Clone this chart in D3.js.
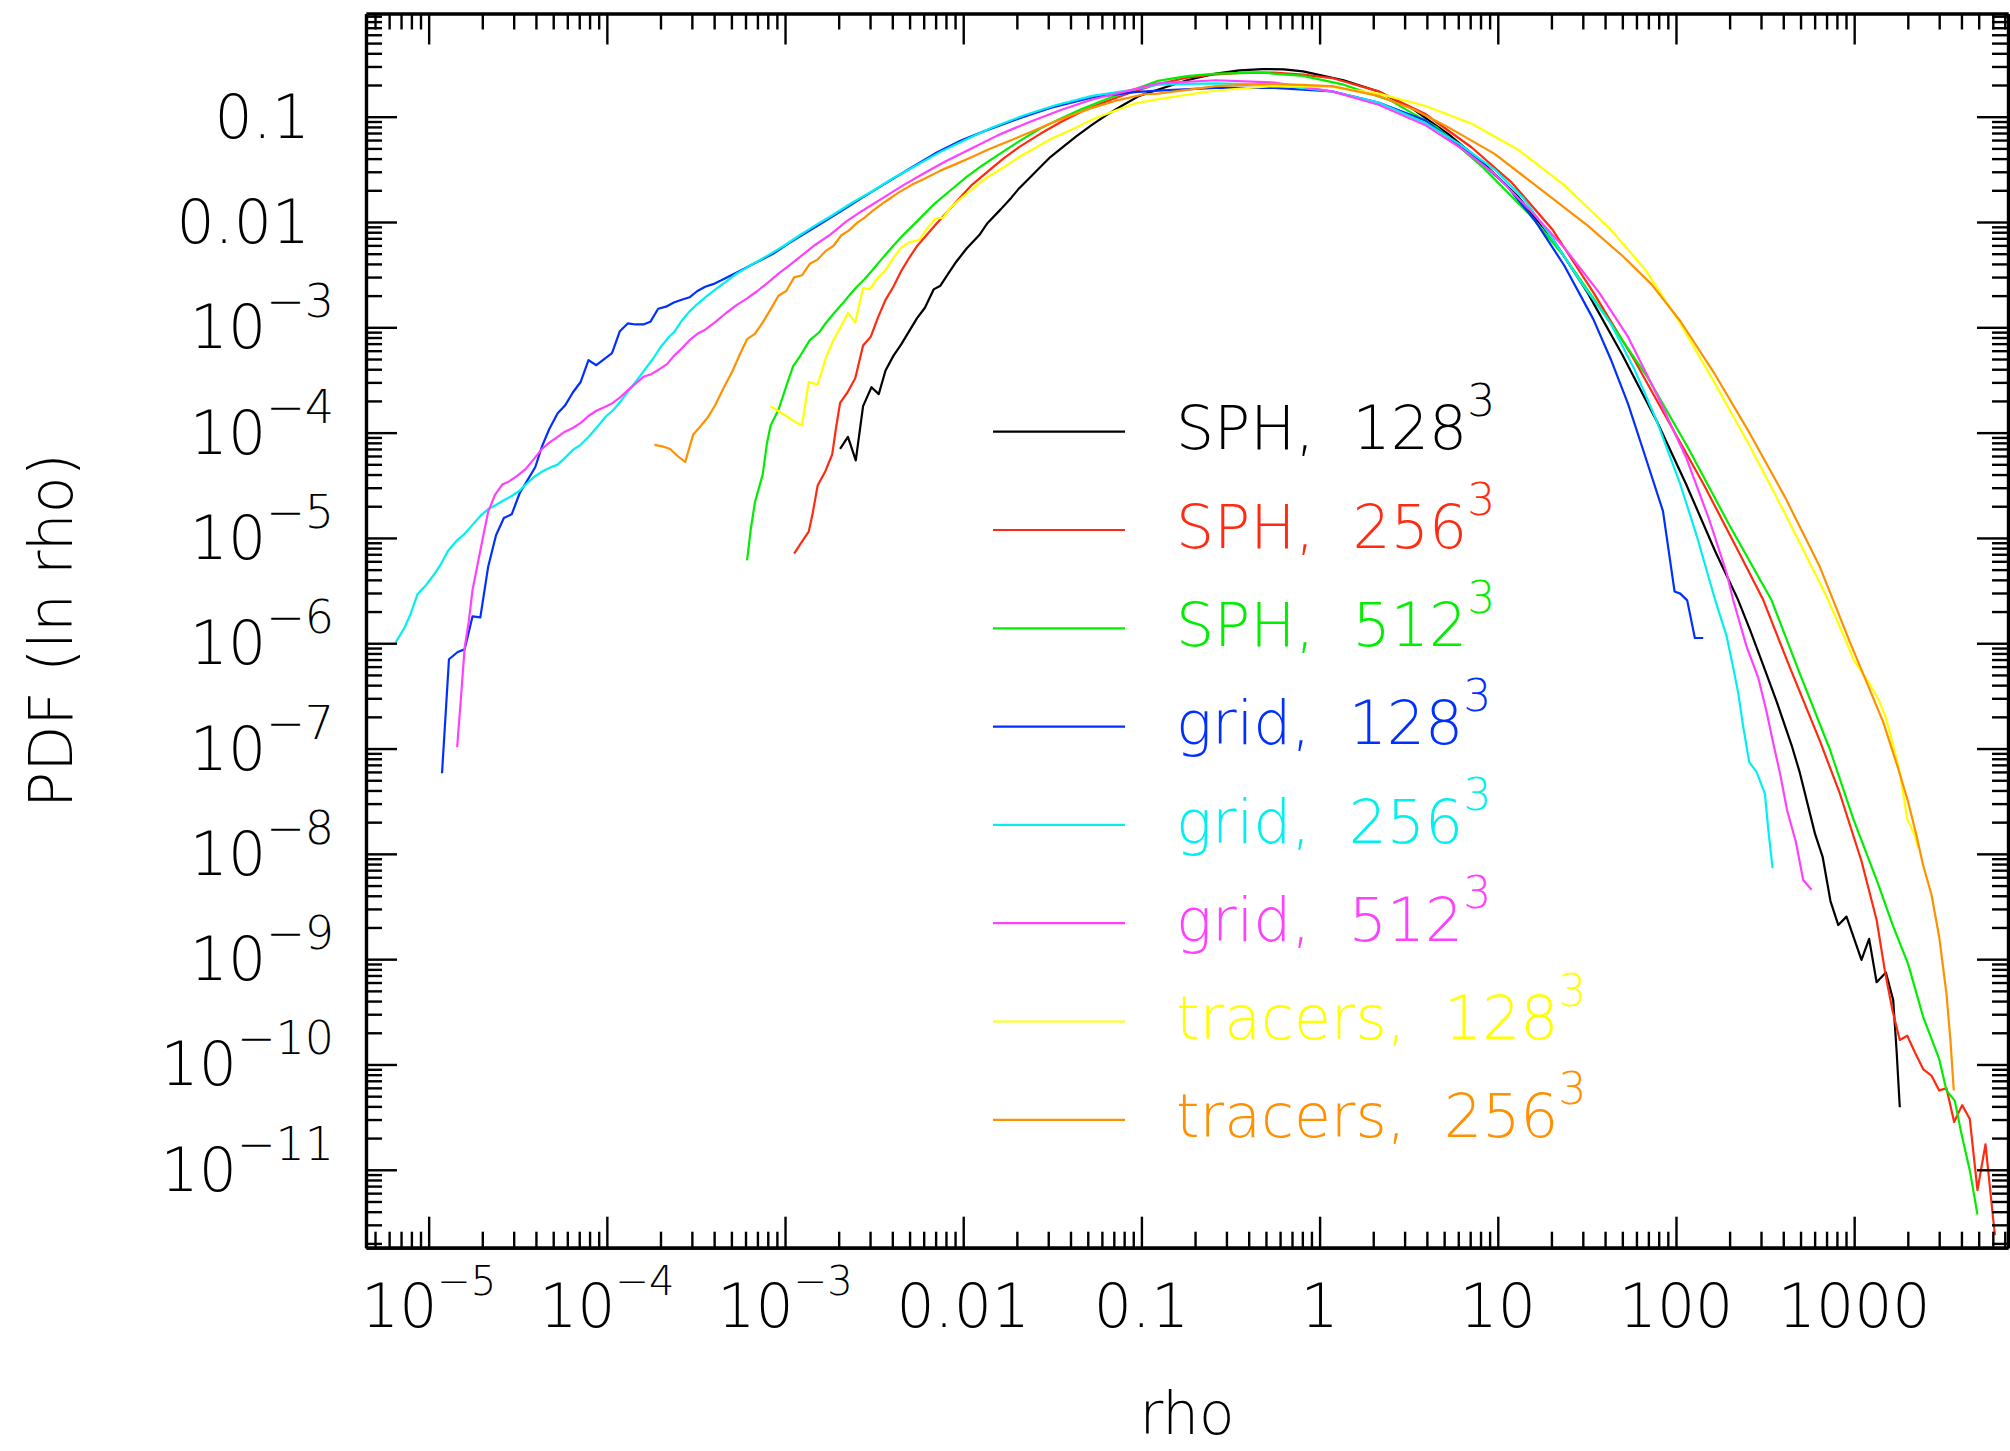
<!DOCTYPE html>
<html>
<head>
<meta charset="utf-8">
<script src="https://cdn.jsdelivr.net/npm/d3@7"></script>
<style>
body { margin: 0; background: #fff; }
text { font-family: "DejaVu Sans", "Liberation Sans", sans-serif; font-weight: 200; }
</style>
</head>
<body>
<div id="chart-area"></div>
<script>

// curves: pairs of [log10 rho, log10 PDF]
var sph128 = [[-2.691,-4.155],[-2.647,-4.041],[-2.603,-4.264],[-2.562,-3.748],[-2.515,-3.569],[-2.474,-3.634],[-2.436,-3.410],[-2.392,-3.271],[-2.348,-3.162],[-2.304,-3.038],[-2.259,-2.913],[-2.215,-2.814],[-2.166,-2.640],[-2.128,-2.605],[-2.084,-2.491],[-2.039,-2.377],[-1.981,-2.252],[-1.907,-2.118],[-1.863,-2.009],[-1.790,-1.880],[-1.731,-1.771],[-1.687,-1.681],[-1.628,-1.582],[-1.570,-1.483],[-1.511,-1.383],[-1.438,-1.284],[-1.364,-1.185],[-1.276,-1.075],[-1.188,-0.976],[-1.100,-0.887],[-1.012,-0.802],[-0.900,-0.740],[-0.744,-0.654],[-0.582,-0.590],[-0.450,-0.560],[-0.321,-0.548],[-0.200,-0.550],[-0.093,-0.569],[0.135,-0.654],[0.331,-0.760],[0.526,-0.930],[0.721,-1.163],[0.917,-1.438],[1.112,-1.756],[1.308,-2.159],[1.503,-2.668],[1.699,-3.261],[1.894,-3.897],[2.057,-4.490],[2.220,-5.126],[2.349,-5.590],[2.415,-5.870],[2.490,-6.210],[2.564,-6.549],[2.649,-6.969],[2.695,-7.229],[2.780,-7.808],[2.823,-8.028],[2.867,-8.448],[2.911,-8.676],[2.957,-8.596],[3.041,-9.007],[3.084,-8.807],[3.126,-9.219],[3.178,-9.127],[3.219,-9.387],[3.238,-9.867],[3.256,-10.406]];

var sph256 = [[-2.949,-5.149],[-2.905,-5.035],[-2.867,-4.940],[-2.846,-4.776],[-2.817,-4.503],[-2.773,-4.364],[-2.735,-4.205],[-2.714,-3.956],[-2.691,-3.718],[-2.650,-3.619],[-2.606,-3.484],[-2.562,-3.172],[-2.518,-3.087],[-2.480,-2.913],[-2.436,-2.739],[-2.392,-2.615],[-2.348,-2.466],[-2.304,-2.342],[-2.259,-2.228],[-2.215,-2.143],[-2.157,-2.029],[-2.098,-1.920],[-2.025,-1.781],[-1.951,-1.647],[-1.863,-1.522],[-1.775,-1.398],[-1.687,-1.289],[-1.570,-1.165],[-1.452,-1.050],[-1.335,-0.951],[-1.217,-0.867],[-1.071,-0.777],[-0.907,-0.690],[-0.744,-0.630],[-0.582,-0.599],[-0.419,-0.582],[-0.256,-0.582],[-0.093,-0.600],[0.070,-0.633],[0.331,-0.760],[0.591,-0.972],[0.852,-1.290],[1.080,-1.629],[1.308,-2.074],[1.536,-2.668],[1.764,-3.303],[1.959,-3.897],[2.155,-4.490],[2.350,-5.126],[2.490,-5.590],[2.639,-6.230],[2.808,-6.929],[2.920,-7.429],[3.041,-8.068],[3.126,-8.628],[3.172,-9.107],[3.215,-9.487],[3.256,-9.767],[3.298,-9.727],[3.341,-9.887],[3.388,-10.046],[3.434,-10.106],[3.477,-10.246],[3.518,-10.226],[3.561,-10.546],[3.606,-10.386],[3.649,-10.518],[3.692,-11.193],[3.737,-10.758],[3.780,-11.465],[3.790,-11.620]];

var sph512 = [[-3.213,-5.213],[-3.193,-4.925],[-3.169,-4.662],[-3.125,-4.394],[-3.102,-4.105],[-3.081,-3.932],[-3.037,-3.783],[-2.993,-3.559],[-2.955,-3.370],[-2.911,-3.261],[-2.861,-3.122],[-2.808,-3.047],[-2.773,-2.963],[-2.729,-2.874],[-2.685,-2.789],[-2.641,-2.700],[-2.597,-2.615],[-2.553,-2.541],[-2.509,-2.456],[-2.465,-2.367],[-2.406,-2.252],[-2.348,-2.143],[-2.289,-2.044],[-2.230,-1.944],[-2.157,-1.820],[-2.069,-1.696],[-1.981,-1.572],[-1.893,-1.463],[-1.804,-1.363],[-1.687,-1.234],[-1.570,-1.115],[-1.452,-1.016],[-1.335,-0.926],[-1.188,-0.827],[-1.041,-0.742],[-0.907,-0.660],[-0.744,-0.615],[-0.582,-0.590],[-0.321,-0.582],[-0.093,-0.612],[0.135,-0.696],[0.396,-0.845],[0.656,-1.099],[0.917,-1.481],[1.177,-1.926],[1.373,-2.328],[1.601,-2.879],[1.840,-3.473],[2.070,-4.151],[2.300,-4.880],[2.536,-5.590],[2.695,-6.289],[2.864,-7.009],[2.995,-7.668],[3.126,-8.248],[3.219,-8.688],[3.303,-9.047],[3.387,-9.547],[3.477,-9.947],[3.518,-10.246],[3.565,-10.346],[3.603,-10.666],[3.649,-11.006],[3.692,-11.425]];

var grid128 = [[-4.925,-7.235],[-4.886,-6.152],[-4.837,-6.083],[-4.798,-6.058],[-4.754,-5.745],[-4.710,-5.755],[-4.666,-5.273],[-4.622,-4.975],[-4.578,-4.811],[-4.534,-4.776],[-4.490,-4.578],[-4.446,-4.453],[-4.402,-4.329],[-4.364,-4.130],[-4.323,-3.966],[-4.276,-3.817],[-4.235,-3.743],[-4.191,-3.619],[-4.147,-3.519],[-4.103,-3.311],[-4.059,-3.360],[-4.015,-3.301],[-3.971,-3.246],[-3.927,-3.037],[-3.883,-2.963],[-3.839,-2.973],[-3.795,-2.973],[-3.756,-2.948],[-3.712,-2.824],[-3.668,-2.804],[-3.624,-2.764],[-3.580,-2.739],[-3.536,-2.715],[-3.492,-2.655],[-3.448,-2.615],[-3.404,-2.590],[-3.360,-2.556],[-3.302,-2.506],[-3.243,-2.456],[-3.155,-2.377],[-3.067,-2.302],[-2.979,-2.203],[-2.890,-2.109],[-2.802,-2.019],[-2.685,-1.895],[-2.568,-1.771],[-2.450,-1.647],[-2.304,-1.497],[-2.157,-1.348],[-2.010,-1.224],[-1.863,-1.125],[-1.687,-1.016],[-1.511,-0.916],[-1.276,-0.817],[-1.041,-0.767],[-0.907,-0.752],[-0.582,-0.726],[-0.256,-0.726],[0.070,-0.760],[0.330,-0.866],[0.591,-1.035],[0.852,-1.353],[1.047,-1.650],[1.210,-1.989],[1.373,-2.413],[1.536,-2.922],[1.634,-3.303],[1.731,-3.727],[1.813,-4.151],[1.927,-4.745],[1.992,-5.508],[2.024,-5.529],[2.063,-5.593],[2.106,-5.950],[2.153,-5.950]];

var grid256 = [[-5.186,-5.993],[-5.136,-5.854],[-5.101,-5.720],[-5.063,-5.536],[-5.019,-5.457],[-4.974,-5.357],[-4.931,-5.248],[-4.892,-5.124],[-4.842,-5.025],[-4.798,-4.960],[-4.754,-4.876],[-4.710,-4.791],[-4.666,-4.726],[-4.622,-4.687],[-4.578,-4.642],[-4.534,-4.602],[-4.490,-4.552],[-4.446,-4.478],[-4.402,-4.413],[-4.358,-4.364],[-4.314,-4.329],[-4.276,-4.304],[-4.235,-4.240],[-4.191,-4.165],[-4.147,-4.116],[-4.103,-4.041],[-4.059,-3.957],[-4.006,-3.847],[-3.962,-3.783],[-3.918,-3.693],[-3.874,-3.594],[-3.830,-3.499],[-3.786,-3.400],[-3.742,-3.301],[-3.698,-3.187],[-3.654,-3.097],[-3.624,-3.047],[-3.580,-2.938],[-3.536,-2.849],[-3.492,-2.779],[-3.448,-2.715],[-3.390,-2.640],[-3.331,-2.566],[-3.272,-2.491],[-3.184,-2.402],[-3.096,-2.317],[-3.008,-2.228],[-2.920,-2.128],[-2.832,-2.034],[-2.744,-1.945],[-2.626,-1.820],[-2.509,-1.706],[-2.392,-1.582],[-2.274,-1.473],[-2.128,-1.334],[-1.981,-1.214],[-1.834,-1.100],[-1.658,-0.986],[-1.482,-0.891],[-1.276,-0.802],[-1.041,-0.742],[-0.907,-0.696],[-0.582,-0.684],[-0.256,-0.696],[0.070,-0.760],[0.330,-0.866],[0.591,-1.057],[0.786,-1.260],[0.982,-1.502],[1.145,-1.777],[1.308,-2.159],[1.471,-2.583],[1.634,-2.964],[1.764,-3.388],[1.894,-3.897],[2.024,-4.490],[2.120,-5.000],[2.220,-5.590],[2.284,-5.930],[2.321,-6.230],[2.349,-6.469],[2.377,-6.789],[2.411,-7.129],[2.452,-7.221],[2.499,-7.429],[2.518,-7.768],[2.542,-8.136]];

var grid512 = [[-4.840,-6.987],[-4.822,-6.589],[-4.798,-6.043],[-4.775,-5.795],[-4.754,-5.496],[-4.725,-5.248],[-4.696,-5.000],[-4.666,-4.751],[-4.628,-4.592],[-4.587,-4.493],[-4.549,-4.463],[-4.505,-4.413],[-4.455,-4.344],[-4.411,-4.254],[-4.364,-4.155],[-4.323,-4.095],[-4.276,-4.041],[-4.235,-3.991],[-4.191,-3.956],[-4.147,-3.907],[-4.103,-3.842],[-4.059,-3.792],[-4.015,-3.758],[-3.971,-3.723],[-3.927,-3.668],[-3.883,-3.599],[-3.839,-3.534],[-3.795,-3.470],[-3.751,-3.445],[-3.707,-3.400],[-3.662,-3.350],[-3.624,-3.271],[-3.580,-3.202],[-3.536,-3.122],[-3.492,-3.062],[-3.448,-3.023],[-3.390,-2.948],[-3.331,-2.864],[-3.272,-2.789],[-3.213,-2.725],[-3.155,-2.655],[-3.096,-2.575],[-3.037,-2.491],[-2.979,-2.416],[-2.905,-2.317],[-2.832,-2.218],[-2.744,-2.118],[-2.656,-1.994],[-2.568,-1.895],[-2.450,-1.771],[-2.333,-1.647],[-2.215,-1.532],[-2.098,-1.423],[-1.951,-1.299],[-1.804,-1.175],[-1.628,-1.050],[-1.452,-0.936],[-1.276,-0.837],[-1.071,-0.752],[-0.907,-0.684],[-0.582,-0.654],[-0.256,-0.675],[0.070,-0.760],[0.331,-0.887],[0.591,-1.078],[0.786,-1.290],[0.982,-1.544],[1.177,-1.880],[1.373,-2.244],[1.568,-2.668],[1.731,-3.091],[1.894,-3.642],[2.057,-4.236],[2.187,-4.829],[2.285,-5.338],[2.321,-5.590],[2.396,-6.030],[2.462,-6.329],[2.508,-6.649],[2.546,-6.949],[2.583,-7.229],[2.624,-7.588],[2.673,-7.888],[2.714,-8.248],[2.761,-8.340]];

var tracers128 = [[-3.081,-3.748],[-3.037,-3.797],[-2.993,-3.842],[-2.949,-3.892],[-2.905,-3.932],[-2.867,-3.519],[-2.817,-3.544],[-2.773,-3.301],[-2.729,-3.122],[-2.685,-2.988],[-2.647,-2.864],[-2.606,-2.953],[-2.562,-2.625],[-2.524,-2.640],[-2.480,-2.531],[-2.436,-2.456],[-2.392,-2.342],[-2.348,-2.243],[-2.304,-2.193],[-2.245,-2.168],[-2.201,-2.059],[-2.157,-1.969],[-2.113,-1.959],[-2.069,-1.860],[-2.010,-1.771],[-1.937,-1.671],[-1.863,-1.572],[-1.775,-1.483],[-1.687,-1.383],[-1.599,-1.299],[-1.511,-1.214],[-1.394,-1.125],[-1.276,-1.026],[-1.159,-0.951],[-1.041,-0.877],[-0.900,-0.830],[-0.582,-0.751],[-0.256,-0.709],[0.070,-0.718],[0.331,-0.781],[0.591,-0.896],[0.852,-1.065],[1.112,-1.311],[1.373,-1.650],[1.634,-2.074],[1.829,-2.455],[2.024,-2.964],[2.220,-3.537],[2.415,-4.130],[2.611,-4.766],[2.806,-5.423],[2.854,-5.590],[2.957,-5.990],[2.995,-6.150],[3.041,-6.269],[3.088,-6.389],[3.135,-6.529],[3.178,-6.709],[3.219,-6.969],[3.256,-7.229],[3.298,-7.668],[3.341,-7.828],[3.360,-7.950]];

var tracers256 = [[-3.733,-4.116],[-3.689,-4.130],[-3.645,-4.155],[-3.604,-4.220],[-3.560,-4.279],[-3.516,-4.021],[-3.478,-3.946],[-3.434,-3.857],[-3.390,-3.733],[-3.340,-3.559],[-3.296,-3.420],[-3.252,-3.251],[-3.213,-3.112],[-3.169,-3.062],[-3.125,-2.953],[-3.081,-2.829],[-3.037,-2.700],[-2.993,-2.655],[-2.949,-2.526],[-2.905,-2.506],[-2.861,-2.397],[-2.817,-2.357],[-2.773,-2.277],[-2.729,-2.228],[-2.685,-2.128],[-2.641,-2.079],[-2.597,-2.009],[-2.553,-1.959],[-2.509,-1.895],[-2.436,-1.805],[-2.363,-1.721],[-2.289,-1.647],[-2.215,-1.587],[-2.128,-1.512],[-2.039,-1.448],[-1.951,-1.383],[-1.863,-1.314],[-1.746,-1.234],[-1.628,-1.150],[-1.511,-1.065],[-1.394,-0.986],[-1.276,-0.916],[-1.129,-0.842],[-0.983,-0.787],[-0.907,-0.781],[-0.582,-0.709],[-0.256,-0.688],[0.070,-0.709],[0.331,-0.802],[0.526,-0.930],[0.721,-1.099],[0.982,-1.353],[1.243,-1.692],[1.503,-2.032],[1.699,-2.320],[1.862,-2.590],[2.024,-2.940],[2.220,-3.450],[2.415,-4.010],[2.611,-4.610],[2.806,-5.270],[2.882,-5.590],[2.976,-5.990],[3.070,-6.369],[3.163,-6.749],[3.247,-7.189],[3.303,-7.508],[3.350,-7.828],[3.387,-8.108],[3.434,-8.388],[3.477,-8.787],[3.518,-9.327],[3.541,-9.787],[3.559,-10.246]];

var seriesData = [sph128, sph256, sph512, grid128, grid256, grid512, tracers128, tracers256];
var seriesNames = ["SPH, 128", "SPH, 256", "SPH, 512", "grid, 128", "grid, 256", "grid, 512", "tracers, 128", "tracers, 256"];
var seriesColors = ["#000000", "#ff2a10", "#00ee00", "#0030ff", "#00f0f0", "#ff40ff", "#ffff00", "#ff9000"];

var xTickValues = [1e-5, 1e-4, 1e-3, 0.01, 0.1, 1, 10, 100, 1000];
var xTickLabels = ["10^−5", "10^−4", "10^−3", "0.01", "0.1", "1", "10", "100", "1000"];
var yTickValues = [1e-11, 1e-10, 1e-9, 1e-8, 1e-7, 1e-6, 1e-5, 1e-4, 1e-3, 0.01, 0.1];
var yTickLabels = ["10^−11", "10^−10", "10^−9", "10^−8", "10^−7", "10^−6", "10^−5", "10^−4", "10^−3", "0.01", "0.1"];

var W = 2010, H = 1451;
var margin = {left: 366, right: 2, top: 13.5, bottom: 203.3};
var width = W - margin.left - margin.right;
var height = H - margin.top - margin.bottom;

var svg = d3.select("#chart-area")
	.append("svg")
		.attr("width", W)
		.attr("height", H);

var g = svg.append("g")
	.attr("transform", "translate(" + margin.left + "," + margin.top + ")");

var x = d3.scaleLog()
	.domain([4.45e-6, 7.3e3])
	.range([0, width]);

var y = d3.scaleLog()
	.domain([1.82e-12, 0.955])
	.range([height, 0]);

// minor ticks: 2..9 in every decade inside the domain
function minorTicks(scale) {
	var d = scale.domain(), out = [];
	for (var e = Math.floor(Math.log10(d[0])); e <= Math.ceil(Math.log10(d[1])); e++) {
		for (var k = 2; k <= 9; k++) {
			var v = k * Math.pow(10, e);
			if (v > d[0] && v < d[1]) out.push(v);
		}
	}
	return out;
}

g.append("defs").append("clipPath").attr("id", "clip")
	.append("rect").attr("width", width).attr("height", height);

var line = d3.line()
	.x(function(d) { return x(Math.pow(10, d[0])); })
	.y(function(d) { return y(Math.pow(10, d[1])); });

g.append("g").attr("clip-path", "url(#clip)")
	.selectAll("path")
	.data(seriesData)
	.enter().append("path")
		.attr("d", line)
		.attr("fill", "none")
		.attr("stroke", function(d, i) { return seriesColors[i]; })
		.attr("stroke-width", 2.2)
		.attr("stroke-linejoin", "round");

// axes, ticks drawn inward on all four sides
function drawAxis(axisFn, scale, tx, ty) {
	var major = axisFn(scale).tickValues(scale === x ? xTickValues : yTickValues)
		.tickSize(-31).tickSizeOuter(0).tickFormat("");
	var minor = axisFn(scale).tickValues(minorTicks(scale))
		.tickSize(-16).tickSizeOuter(0).tickFormat("");
	var a = g.append("g").attr("transform", "translate(" + tx + "," + ty + ")");
	a.append("g").call(minor);
	a.append("g").call(major);
	a.selectAll("line").attr("stroke", "#000").attr("stroke-width", 2.4);
	a.selectAll("path").attr("stroke", "#000").attr("stroke-width", 3.2);
}
drawAxis(d3.axisBottom, x, 0, height);
drawAxis(d3.axisTop, x, 0, 0);
drawAxis(d3.axisLeft, y, 0, 0);
drawAxis(d3.axisRight, y, width, 0);

function addLabel(sel, str, supSize, supRise) {
	var parts = str.split("^");
	sel.append("tspan").text(parts[0]);
	if (parts.length > 1) {
		sel.append("tspan")
			.attr("dy", -supRise)
			.attr("font-size", supSize + "px")
			.text(parts[1]);
	}
}

// x tick labels
xTickValues.forEach(function(v, i) {
	var t = g.append("text")
		.attr("x", x(v))
		.attr("y", height + 79)
		.attr("font-size", "60px")
		.attr("text-anchor", "middle");
	addLabel(t, xTickLabels[i], 40, 32);
});

// y tick labels
yTickValues.forEach(function(v, i) {
	var lab = yTickLabels[i];
	var t = g.append("text")
		.attr("x", lab.indexOf("^") >= 0 ? -32 : -56)
		.attr("y", y(v) + 21)
		.attr("font-size", "60px")
		.attr("text-anchor", "end");
	addLabel(t, lab, 46, 31);
});

// axis titles
g.append("text")
	.attr("x", width / 2)
	.attr("y", height + 186)
	.attr("font-size", "58px")
	.attr("text-anchor", "middle")
	.text("rho");

g.append("text")
	.attr("transform", "translate(" + (72 - margin.left) + "," + (height / 2) + ") rotate(-90)")
	.attr("font-size", "60px")
	.attr("text-anchor", "middle")
	.text("PDF (ln rho)");

// legend
var legend = g.append("g").attr("transform", "translate(" + (993 - margin.left) + "," + (431.7 - margin.top) + ")");
seriesNames.forEach(function(name, i) {
	var row = legend.append("g").attr("transform", "translate(0," + (i * 98.3) + ")");
	row.append("line")
		.attr("x1", 0).attr("x2", 132)
		.attr("stroke", seriesColors[i])
		.attr("stroke-width", 2.2);
	var t = row.append("text")
		.attr("x", 183)
		.attr("y", 17.6)
		.attr("font-size", "60px")
		.attr("fill", seriesColors[i])
		.style("white-space", "pre");
	addLabel(t, name.replace(", ", ",  ") + "^3", 44, 33);
});

</script>
</body>
</html>
